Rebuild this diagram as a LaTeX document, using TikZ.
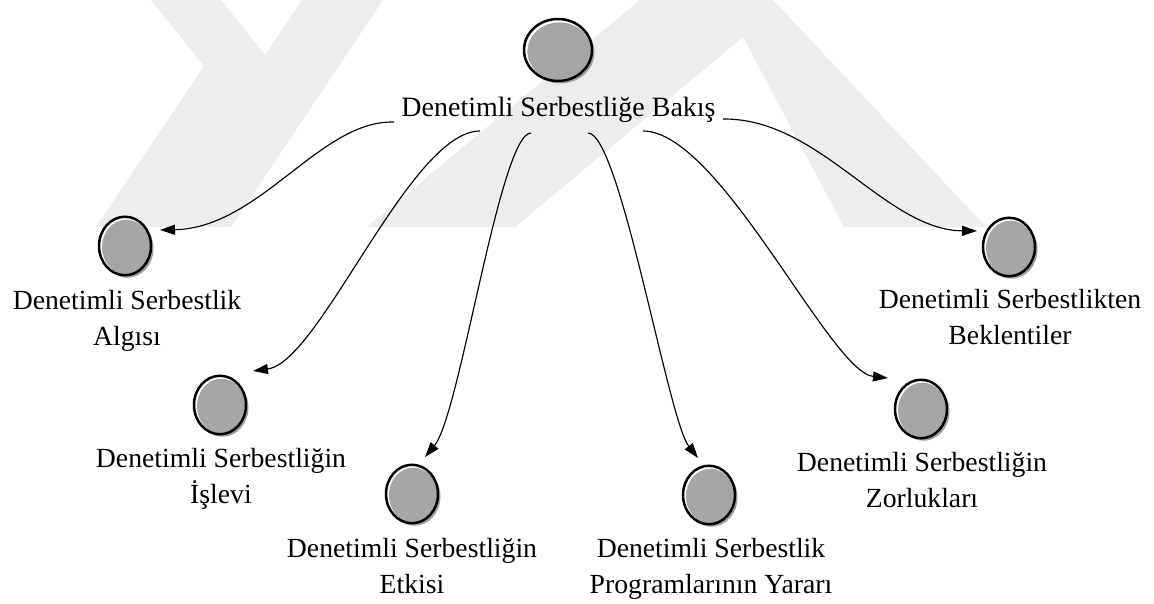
\documentclass[tikz,border=0pt]{standalone}
\usepackage{fontspec}
\setmainfont{Liberation Serif}
\usetikzlibrary{arrows.meta,shapes.geometric,shadows}
\definecolor{wm}{RGB}{237,237,237}
\definecolor{ballgray}{RGB}{166,166,166}
\definecolor{shadowgray}{RGB}{160,160,160}
\begin{document}
\begin{tikzpicture}[x=1pt,y=-1pt,
  ballbase/.style={ellipse, draw=black, line width=2.5pt, fill=white, inner sep=0pt, outer sep=0pt,
     drop shadow={shadow xshift=2.5pt, shadow yshift=-2.5pt, fill=shadowgray, opacity=1}},
  smallball/.style={ballbase, minimum width=52pt, minimum height=58.5pt,
     path picture={\fill[ballgray] ([xshift=1.2pt,yshift=-1.2pt]path picture bounding box.center) ellipse [x radius=24.2pt, y radius=27.5pt];}},
  bigball/.style={ballbase, minimum width=68pt, minimum height=62pt,
     path picture={\fill[ballgray] ([xshift=1.4pt,yshift=-1.4pt]path picture bounding box.center) ellipse [x radius=32pt, y radius=29pt];}},
  lbl/.style={font=\fontsize{27.7}{36}\selectfont, align=center, inner sep=0pt, anchor=north},
  mainlbl/.style={font=\fontsize{28}{36}\selectfont, inner sep=0pt, anchor=base},
  conn/.style={line width=1.15pt, -{Triangle[length=15pt,width=10pt]}}
]
\useasboundingbox (0,0) rectangle (1154,604);
\fill[white] (0,0) rectangle (1154,604);
% watermark
\fill[wm] (151,0) -- (221,0) -- (265,55) -- (302,0) -- (383,0) -- (231,227) -- (96,227) -- (204,66) -- cycle;
\fill[wm] (367,227) -- (640,0) -- (773,0) -- (986,227) -- (844,227) -- (743,37) -- (515,227) -- cycle;

% balls
\node[bigball] (c0) at (558,50) {};
\node[smallball] (c1) at (125,246) {};
\node[smallball] (c2) at (220,405) {};
\node[smallball] (c3) at (412,494) {};
\node[smallball] (c4) at (709,495) {};
\node[smallball] (c5) at (921,409) {};
\node[smallball] (c6) at (1009,247) {};

% labels
\node[mainlbl] (l0) at (558.5,117) {Denetimli Serbestliğe Bakış};
\node[lbl] (l1) at (127,290.2) {Denetimli Serbestlik\\Algısı};
\node[lbl] (l2) at (221,448.2) {Denetimli Serbestliğin\\İşlevi};
\node[lbl] (l3) at (412,538.2) {Denetimli Serbestliğin\\Etkisi};
\node[lbl] (l4) at (711,538.2) {Denetimli Serbestlik\\Programlarının Yararı};
\node[lbl] (l5) at (922,452.2) {Denetimli Serbestliğin\\Zorlukları};
\node[lbl] (l6) at (1010,289.2) {Denetimli Serbestlikten\\Beklentiler};

% connector ends
\coordinate (s1) at (394,122); \coordinate (e1) at (160,230);
\coordinate (s2) at (480,131); \coordinate (e2) at (253,371);
\coordinate (s3) at (531,133); \coordinate (e3) at (425,457);
\coordinate (s4) at (588,133); \coordinate (e4) at (698,458);
\coordinate (s5) at (643,131); \coordinate (e5) at (888,378);
\coordinate (s6) at (723,119); \coordinate (e6) at (977,231);

\draw[conn] (s1) .. controls (320,120) and (260,228) .. (e1);
\draw[conn] (s2) .. controls (410,131) and (320,362) .. (e2);
\draw[conn] (s3) .. controls (500,133) and (460,415) .. (e3);
\draw[conn] (s4) .. controls (620,133) and (668,420) .. (e4);
\draw[conn] (s5) .. controls (720,131) and (830,372) .. (e5);
\draw[conn] (s6) .. controls (820,118) and (885,230) .. (e6);
\end{tikzpicture}
\end{document}
